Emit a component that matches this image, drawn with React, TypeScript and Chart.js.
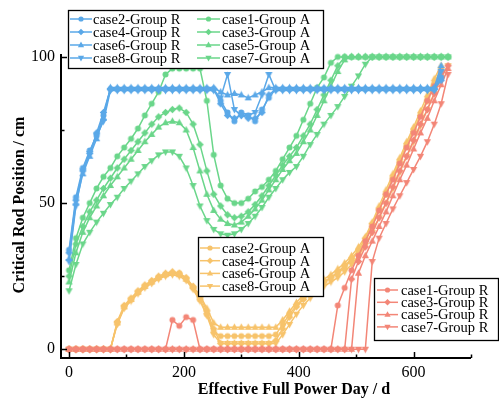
import React, { useEffect, useRef } from "react";
import { Chart, registerables } from "chart.js";

Chart.register(...registerables);

const FONT = '"Liberation Serif", "Times New Roman", serif';

const DAYS = [0, 12, 24, 36, 48, 60, 72, 84, 96, 108, 120, 132, 144, 156, 168, 180, 192, 204, 216, 228, 240, 252, 264, 276, 288, 300, 312, 324, 336, 348, 360, 372, 384, 396, 408, 420, 432, 444, 456, 468, 480, 492, 504, 516, 528, 540, 552, 564, 576, 588, 600, 612, 624, 636, 648, 660];

// Group R (blue): case2, case4, case6, case8
const GR_CASE2: (number | null)[] = [34, 52, 62, 68, 73, 80, 89,
  89, 89, 89, 89, 89, 89, 89, 89, 89, 89, 89, 89, 89, 89,
  89, 85, 81, 78, 81, 80, 78, 82, 86, 89,
  89, 89, 89, 89, 89, 89, 89, 89, 89, 89, 89, 89, 89, 89, 89, 89, 89, 89, 89, 89, 89, 89, 89,
  93, null];
const GR_CASE4: (number | null)[] = [33, 51, 61, 67, 74, 81, 89,
  89, 89, 89, 89, 89, 89, 89, 89, 89, 89, 89, 89, 89, 89,
  89, 84, 80, 79, 80, 79, 79, 81, 87, 89,
  89, 89, 89, 89, 89, 89, 89, 89, 89, 89, 89, 89, 89, 89, 89, 89, 89, 89, 89, 89, 89, 89, 89,
  92, null];
const GR_CASE6: (number | null)[] = [31, 50, 60, 66, 72, 79, 89.5,
  89.5, 89.5, 89.5, 89.5, 89.5, 89.5, 89.5, 89.5, 89.5, 89.5, 89.5, 89.5, 89.5, 89.5,
  89.5, 88, 87, 87.5, 87, 86, 87, 88, 89.5, 89.5,
  89.5, 89.5, 89.5, 89.5, 89.5, 89.5, 89.5, 89.5, 89.5, 89.5, 89.5, 89.5, 89.5, 89.5, 89.5, 89.5, 89.5, 89.5, 89.5, 89.5, 89.5, 89.5, 89.5,
  97, null];
const GR_CASE8: (number | null)[] = [30, 49, 61, 67, 73, 78, 88.5,
  88.5, 88.5, 88.5, 88.5, 88.5, 88.5, 88.5, 88.5, 88.5, 88.5, 88.5, 88.5, 88.5, 88.5,
  88.5, 86, 94, 82, 80, 80, 81, 87, 94, 88.5,
  88.5, 88.5, 88.5, 88.5, 88.5, 88.5, 88.5, 88.5, 88.5, 88.5, 88.5, 88.5, 88.5, 88.5, 88.5, 88.5, 88.5, 88.5, 88.5, 88.5, 88.5, 88.5, 88.5,
  95, null];

// Group R (red): case1, case3, case5, case7
const GR_CASE1: (number | null)[] = [0, 0, 0, 0, 0, 0, 0, 0, 0, 0, 0, 0, 0, 0, 0,
  10, 8, 11, 10,
  0, 0, 0, 0, 0, 0, 0, 0, 0, 0, 0, 0, 0, 0, 0, 0, 0, 0, 0, 0,
  15, 21, 27, 32, 37, 42, 47.5, 53, 58, 63.5, 69, 74, 79.5, 85, 90, 95, null];
const GR_CASE3: (number | null)[] = [0, 0, 0, 0, 0, 0, 0, 0, 0, 0, 0, 0, 0, 0, 0, 0, 0, 0, 0, 0,
  0, 0, 0, 0, 0, 0, 0, 0, 0, 0, 0, 0, 0, 0, 0, 0, 0, 0, 0, 0, 0,
  24, 30, 35, 40, 45, 50, 55.5, 61, 66, 71.5, 77, 82, 87.5, 93, 97];
const GR_CASE5: (number | null)[] = [0, 0, 0, 0, 0, 0, 0, 0, 0, 0, 0, 0, 0, 0, 0, 0, 0, 0, 0, 0,
  0, 0, 0, 0, 0, 0, 0, 0, 0, 0, 0, 0, 0, 0, 0, 0, 0, 0, 0, 0, 0, 0,
  26, 32, 37, 42, 47, 52.5, 58, 63, 68.5, 74, 79, 85, 90.5, 96];
const GR_CASE7: (number | null)[] = [0, 0, 0, 0, 0, 0, 0, 0, 0, 0, 0, 0, 0, 0, 0, 0, 0, 0, 0, 0,
  0, 0, 0, 0, 0, 0, 0, 0, 0, 0, 0, 0, 0, 0, 0, 0, 0, 0, 0, 0, 0, 0, 0, 0,
  30, 38, 43, 48, 52.5, 57, 61.5, 66, 71, 77, 84, 94];

// Group A (green): case1, case3, case5, case7
const GA_CASE1: (number | null)[] = [27, 38, 45, 50, 55, 59, 62, 66, 69, 72, 75.5, 80, 84, 88, 94, 96, 96, 96, 96, 96,
  85, 66.5, 56, 51.5, 50, 50, 51.5, 54, 55.5, 58, 61, 65, 69, 73, 78.5, 84, 89.5, 93, 98, 100,
  100, 100, 100, 100, 100, 100, 100, 100, 100, 100, 100, 100, 100, 100, 100, 100];
const GA_CASE3: (number | null)[] = [25, 36, 42, 47, 51, 55, 58.5, 62, 65, 68, 71, 74, 77, 79.5, 81, 82, 82.5, 81, 77, 70,
  61, 53, 49, 46, 45, 45.5, 47, 49.5, 52.5, 56, 59.5, 63, 66, 69, 73, 77, 82, 87, 92, 97, 100,
  100, 100, 100, 100, 100, 100, 100, 100, 100, 100, 100, 100, 100, 100, 100];
const GA_CASE5: (number | null)[] = [23, 33, 40, 45, 49, 52.5, 56, 59, 62, 65, 68, 71, 73.5, 76, 77.5, 78, 77.5, 75, 69, 61,
  53, 47.5, 44.5, 43, 42.5, 43.5, 45.5, 48, 51, 54.5, 58, 61.5, 64.5, 67, 71, 75, 80, 85, 90, 95, 99, 100,
  100, 100, 100, 100, 100, 100, 100, 100, 100, 100, 100, 100, 100, 100];
const GA_CASE7: (number | null)[] = [20, 29, 36, 40, 43.5, 46.5, 49.5, 52, 55, 57.5, 60, 62.5, 64.5, 66.5, 67.5, 67.5, 66, 62, 56, 49,
  44, 41, 39.5, 39, 39.5, 41, 43, 45.5, 48.5, 52, 55, 58, 60.5, 62.5, 66, 70, 73.5, 77, 80, 83, 86.5, 90, 93.5, 97.5, 100,
  100, 100, 100, 100, 100, 100, 100, 100, 100, 100, 100];

// Group A (orange): case2, case4, case6, case8
const GA_CASE2: (number | null)[] = [0, 0, 0, 0, 0, 0, 0,
  9, 14.5, 17, 19.5, 21.5, 23, 24.5, 25.5, 26, 26, 24, 21, 17, 12, 6,
  4.5, 4.5, 4.5, 4.5, 4.5, 4.5, 4.5, 4.5,
  5, 8.5, 12, 15, 17.5, 19.5, 21.5, 23, 24.5, 26, 28, 30.5, 33.5, 37, 42, 47.5, 53, 59, 64.5, 70, 75, 80, 85.5, 91, 96, null];
const GA_CASE4: (number | null)[] = [0, 0, 0, 0, 0, 0, 0,
  9.5, 15, 17.5, 20, 22, 23.5, 25, 26, 26.5, 26, 24.5, 21.5, 18, 13, 7,
  2, 2, 2, 2, 2, 2, 2, 2,
  3, 7, 11, 14.5, 17, 19.5, 21.5, 23, 24.5, 26.5, 28.5, 31, 34, 38, 43, 48, 53, 58.5, 64, 69.5, 74.5, 80, 85, 90.5, 95, null];
const GA_CASE6: (number | null)[] = [0, 0, 0, 0, 0, 0, 0,
  9, 14.5, 17, 19.5, 21.5, 23, 24.5, 25.5, 26, 25.5, 24, 21.5, 18.5, 14, 9,
  7.5, 7.5, 7.5, 7.5, 7.5, 7.5, 7.5, 7.5,
  7.5, 10, 13, 16, 18.5, 20.5, 22.5, 24, 25.5, 27.5, 29.5, 32, 35, 38.5, 43.5, 49, 54.5, 60, 65.5, 71, 76, 81.5, 87, 92.5, 97, null];
const GA_CASE8: (number | null)[] = [0, 0, 0, 0, 0, 0, 0,
  8.5, 14, 16.5, 19, 21, 22.5, 24, 25, 25.5, 25, 23.5, 20.5, 16.5, 11.5, 5,
  2, 2, 2, 2, 2, 2, 2, 2,
  2, 5, 8.5, 12, 15, 17.5, 19.5, 21.5, 23, 24.5, 26.5, 29, 32, 35.5, 40, 45, 50, 55, 60.5, 66, 71, 76.5, 82, 87.5, 93, 97];

const X_MAJOR = [0, 200, 400, 600];
const X_MINOR = [100, 300, 500, 700];
const Y_MAJOR = [0, 50, 100];
const Y_MINOR = [25, 75];

const X_TITLE = "Effective Full Power Day / d";
const Y_TITLE = "Critical Rod Position / cm";

const BLUE = "#5aa8e8";
const GREEN = "#6ad68a";
const ORANGE = "#f7c36b";
const RED = "#f38677";

type Series = { label: string; values: (number | null)[]; color: string; shape: string };

const SERIES: Series[] = [
  { label: "case2-Group R", values: GR_CASE2, color: BLUE, shape: "circle" },
  { label: "case4-Group R", values: GR_CASE4, color: BLUE, shape: "diamond" },
  { label: "case6-Group R", values: GR_CASE6, color: BLUE, shape: "up" },
  { label: "case8-Group R", values: GR_CASE8, color: BLUE, shape: "down" },
  { label: "case1-Group R", values: GR_CASE1, color: RED, shape: "circle" },
  { label: "case3-Group R", values: GR_CASE3, color: RED, shape: "diamond" },
  { label: "case5-Group R", values: GR_CASE5, color: RED, shape: "up" },
  { label: "case7-Group R", values: GR_CASE7, color: RED, shape: "down" },
  { label: "case1-Group A", values: GA_CASE1, color: GREEN, shape: "circle" },
  { label: "case3-Group A", values: GA_CASE3, color: GREEN, shape: "diamond" },
  { label: "case5-Group A", values: GA_CASE5, color: GREEN, shape: "up" },
  { label: "case7-Group A", values: GA_CASE7, color: GREEN, shape: "down" },
  { label: "case2-Group A", values: GA_CASE2, color: ORANGE, shape: "circle" },
  { label: "case4-Group A", values: GA_CASE4, color: ORANGE, shape: "diamond" },
  { label: "case6-Group A", values: GA_CASE6, color: ORANGE, shape: "up" },
  { label: "case8-Group A", values: GA_CASE8, color: ORANGE, shape: "down" },
];

type LegendCol = { lineX0: number; lineX1: number; textX: number; labels: string[] };
type LegendBox = { x: number; y: number; w: number; h: number; rowY0: number; rowStep: number; cols: LegendCol[] };

const LEGENDS: LegendBox[] = [
  {
    x: 68, y: 10, w: 255, h: 58, rowY0: 19, rowStep: 13,
    cols: [
      { lineX0: 70, lineX1: 92, textX: 93, labels: ["case2-Group R", "case4-Group R", "case6-Group R", "case8-Group R"] },
      { lineX0: 197, lineX1: 220, textX: 222, labels: ["case1-Group A", "case3-Group A", "case5-Group A", "case7-Group A"] },
    ],
  },
  {
    x: 198, y: 237, w: 125, h: 59, rowY0: 248, rowStep: 12.7,
    cols: [{ lineX0: 200, lineX1: 220, textX: 222, labels: ["case2-Group A", "case4-Group A", "case6-Group A", "case8-Group A"] }],
  },
  {
    x: 374, y: 278, w: 124, h: 62, rowY0: 290, rowStep: 12.3,
    cols: [{ lineX0: 377, lineX1: 398, textX: 401, labels: ["case1-Group R", "case3-Group R", "case5-Group R", "case7-Group R"] }],
  },
];

function drawMarker(ctx: CanvasRenderingContext2D, shape: string, x: number, y: number, r: number) {
  ctx.beginPath();
  if (shape === "circle") {
    ctx.arc(x, y, r, 0, Math.PI * 2);
  } else if (shape === "diamond") {
    ctx.moveTo(x, y - r * 1.25);
    ctx.lineTo(x + r * 1.25, y);
    ctx.lineTo(x, y + r * 1.25);
    ctx.lineTo(x - r * 1.25, y);
    ctx.closePath();
  } else if (shape === "up") {
    ctx.moveTo(x, y - r * 1.3);
    ctx.lineTo(x + r * 1.2, y + r * 0.85);
    ctx.lineTo(x - r * 1.2, y + r * 0.85);
    ctx.closePath();
  } else {
    ctx.moveTo(x, y + r * 1.3);
    ctx.lineTo(x + r * 1.2, y - r * 0.85);
    ctx.lineTo(x - r * 1.2, y - r * 0.85);
    ctx.closePath();
  }
  ctx.fill();
}

function makeMarkerCanvas(shape: string, color: string, r: number): HTMLCanvasElement {
  const size = Math.ceil(r * 3);
  const c = document.createElement("canvas");
  c.width = size;
  c.height = size;
  const cx = c.getContext("2d")!;
  cx.fillStyle = color;
  drawMarker(cx, shape, size / 2, size / 2, r);
  return c;
}

const customPlugin = {
  id: "customAxesLegends",
  afterDraw(chart: any) {
    const ctx: CanvasRenderingContext2D = chart.ctx;
    const xs = chart.scales.x;
    const ys = chart.scales.y;
    const { left, right, top, bottom } = chart.chartArea;
    ctx.save();
    ctx.strokeStyle = "#000";
    ctx.lineWidth = 2;
    ctx.beginPath();
    ctx.moveTo(left, top);
    ctx.lineTo(left, bottom);
    ctx.lineTo(right, bottom);
    ctx.stroke();
    ctx.lineWidth = 1.5;
    ctx.beginPath();
    X_MAJOR.forEach((v) => {
      const p = Math.round(xs.getPixelForValue(v)) + 0.5;
      ctx.moveTo(p, bottom);
      ctx.lineTo(p, bottom - 6);
    });
    X_MINOR.forEach((v) => {
      const p = Math.round(xs.getPixelForValue(v)) + 0.5;
      ctx.moveTo(p, bottom);
      ctx.lineTo(p, bottom - 3.5);
    });
    Y_MAJOR.forEach((v) => {
      const p = Math.round(ys.getPixelForValue(v)) + 0.5;
      ctx.moveTo(left, p);
      ctx.lineTo(left + 6, p);
    });
    Y_MINOR.forEach((v) => {
      const p = Math.round(ys.getPixelForValue(v)) + 0.5;
      ctx.moveTo(left, p);
      ctx.lineTo(left + 3.5, p);
    });
    ctx.stroke();

    ctx.fillStyle = "#000";
    ctx.font = `bold 16px ${FONT}`;
    ctx.textAlign = "center";
    ctx.textBaseline = "alphabetic";
    ctx.fillText(X_TITLE, 294, 394);
    ctx.save();
    ctx.translate(24, 205);
    ctx.rotate(-Math.PI / 2);
    ctx.fillText(Y_TITLE, 0, 0);
    ctx.restore();

    LEGENDS.forEach((lg) => {
      ctx.fillStyle = "#fff";
      ctx.fillRect(lg.x, lg.y, lg.w, lg.h);
      ctx.strokeStyle = "#000";
      ctx.lineWidth = 1.3;
      ctx.strokeRect(lg.x + 0.5, lg.y + 0.5, lg.w, lg.h);
      lg.cols.forEach((col) => {
        col.labels.forEach((lab, i) => {
          const s = SERIES.find((q) => q.label === lab)!;
          const y = lg.rowY0 + i * lg.rowStep;
          ctx.strokeStyle = s.color;
          ctx.fillStyle = s.color;
          ctx.lineWidth = 1.5;
          ctx.beginPath();
          ctx.moveTo(col.lineX0, y);
          ctx.lineTo(col.lineX1, y);
          ctx.stroke();
          drawMarker(ctx, s.shape, (col.lineX0 + col.lineX1) / 2, y, 2.6);
          ctx.fillStyle = "#000";
          ctx.font = `14.5px ${FONT}`;
          ctx.textAlign = "left";
          ctx.textBaseline = "middle";
          ctx.fillText(lab, col.textX, y + 1);
        });
      });
    });
    ctx.restore();
  },
};

export default function App() {
  const ref = useRef<HTMLCanvasElement>(null);
  useEffect(() => {
    const canvas = ref.current;
    if (!canvas) return;
    const datasets = SERIES.map((s) => ({
      label: s.label,
      data: DAYS.map((d, i) => ({ x: d, y: s.values[i] })),
      borderColor: s.color,
      backgroundColor: s.color,
      borderWidth: 1.5,
      pointRadius: 3,
      pointHoverRadius: 3,
      pointStyle: makeMarkerCanvas(s.shape, s.color, 3),
      pointBorderWidth: 0,
      tension: 0,
      spanGaps: false,
      clip: false as any,
    }));
    const chart = new Chart(canvas, {
      type: "line",
      data: { datasets: datasets as any },
      options: {
        responsive: false,
        animation: false,
        devicePixelRatio: 1,
        layout: { padding: { top: 54, right: 28, left: 0, bottom: 0 } },
        plugins: { legend: { display: false }, tooltip: { enabled: false } },
        scales: {
          x: {
            type: "linear",
            min: -14,
            max: 700,
            afterBuildTicks: (s: any) => {
              s.ticks = X_MAJOR.map((v) => ({ value: v }));
            },
            afterFit: (s: any) => {
              s.height = 46;
            },
            grid: { display: false, drawTicks: false },
            border: { display: false },
            ticks: { font: { family: FONT, size: 16 }, color: "#000", padding: 5, maxRotation: 0, autoSkip: false },
          },
          y: {
            type: "linear",
            min: -3,
            max: 101,
            afterBuildTicks: (s: any) => {
              s.ticks = Y_MAJOR.map((v) => ({ value: v }));
            },
            afterFit: (s: any) => {
              s.width = 61;
            },
            grid: { display: false, drawTicks: false },
            border: { display: false },
            ticks: { font: { family: FONT, size: 16 }, color: "#000", padding: 6, autoSkip: false },
          },
        },
      },
      plugins: [customPlugin],
    });
    return () => chart.destroy();
  }, []);
  return (
    <div style={{ position: "fixed", left: 0, top: 0, width: 499, height: 404, background: "#fff" }}>
      <canvas ref={ref} width={499} height={404} style={{ display: "block", width: 499, height: 404 }} />
    </div>
  );
}
